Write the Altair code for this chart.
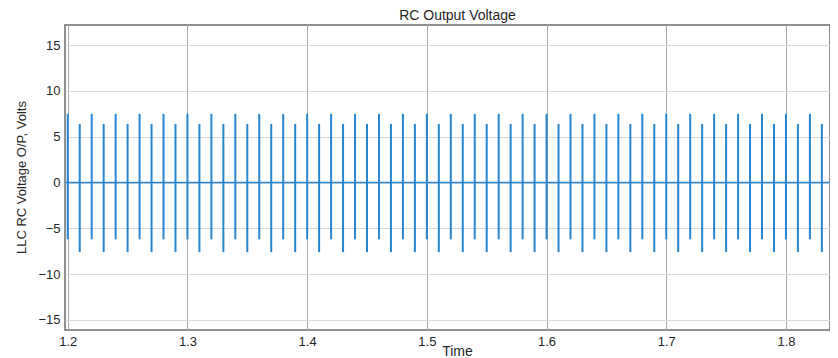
import altair as alt
import pandas as pd

# Spike instants (s)
times = [1.20, 1.21, 1.22, 1.23, 1.24, 1.25, 1.26, 1.27, 1.28, 1.29,
         1.30, 1.31, 1.32, 1.33, 1.34, 1.35, 1.36, 1.37, 1.38, 1.39,
         1.40, 1.41, 1.42, 1.43, 1.44, 1.45, 1.46, 1.47, 1.48, 1.49,
         1.50, 1.51, 1.52, 1.53, 1.54, 1.55, 1.56, 1.57, 1.58, 1.59,
         1.60, 1.61, 1.62, 1.63, 1.64, 1.65, 1.66, 1.67, 1.68, 1.69,
         1.70, 1.71, 1.72, 1.73, 1.74, 1.75, 1.76, 1.77, 1.78, 1.79,
         1.80, 1.81, 1.82, 1.83, 1.84]
# Positive peak of each spike (V)
peak_up = [7.5, 6.4, 7.5, 6.4, 7.5, 6.4, 7.5, 6.4, 7.5, 6.4,
           7.5, 6.4, 7.5, 6.4, 7.5, 6.4, 7.5, 6.4, 7.5, 6.4,
           7.5, 6.4, 7.5, 6.4, 7.5, 6.4, 7.5, 6.4, 7.5, 6.4,
           7.5, 6.4, 7.5, 6.4, 7.5, 6.4, 7.5, 6.4, 7.5, 6.4,
           7.5, 6.4, 7.5, 6.4, 7.5, 6.4, 7.5, 6.4, 7.5, 6.4,
           7.5, 6.4, 7.5, 6.4, 7.5, 6.4, 7.5, 6.4, 7.5, 6.4,
           7.5, 6.4, 7.5, 6.4, 7.5]
# Negative peak of each spike (V)
peak_down = [-6.2, -7.6, -6.2, -7.6, -6.2, -7.6, -6.2, -7.6, -6.2, -7.6,
             -6.2, -7.6, -6.2, -7.6, -6.2, -7.6, -6.2, -7.6, -6.2, -7.6,
             -6.2, -7.6, -6.2, -7.6, -6.2, -7.6, -6.2, -7.6, -6.2, -7.6,
             -6.2, -7.6, -6.2, -7.6, -6.2, -7.6, -6.2, -7.6, -6.2, -7.6,
             -6.2, -7.6, -6.2, -7.6, -6.2, -7.6, -6.2, -7.6, -6.2, -7.6,
             -6.2, -7.6, -6.2, -7.6, -6.2, -7.6, -6.2, -7.6, -6.2, -7.6,
             -6.2, -7.6, -6.2, -7.6, -6.2]
baseline = [0]

x_ticks = [1.2, 1.3, 1.4, 1.5, 1.6, 1.7, 1.8]
y_ticks = [-15, -10, -5, 0, 5, 10, 15]
x_domain = [1.1977, 1.8368]
y_domain = [-16.1, 17.2]

FONT = "Liberation Sans"
BLUE = "#2786cf"
TXT = "#262626"

df = pd.DataFrame({"t": times, "up": peak_up, "down": peak_down})
df0 = pd.DataFrame({"v": baseline})

spikes = alt.Chart(df).mark_rule(color=BLUE, strokeWidth=2, clip=True).encode(
    x=alt.X("t:Q",
            scale=alt.Scale(domain=x_domain, nice=False, zero=False),
            axis=alt.Axis(values=x_ticks, format=".1f", grid=True,
                          gridColor="#a8a8a8", gridWidth=1, tickSize=0,
                          domain=False, labelFont=FONT, labelFontSize=13,
                          labelColor=TXT, labelPadding=5, title="Time",
                          titleFont=FONT, titleFontSize=14,
                          titleFontWeight="normal", titleColor=TXT,
                          titleX=392, titleY=21, titleBaseline="middle")),
    y=alt.Y("down:Q",
            scale=alt.Scale(domain=y_domain, nice=False, zero=False),
            axis=alt.Axis(values=y_ticks, grid=True, gridColor="#d8d8d8",
                          gridWidth=1, tickSize=0, domain=False,
                          labelFont=FONT, labelFontSize=13, labelColor=TXT,
                          labelPadding=5, title="LLC RC Voltage O/P, Volts",
                          titleFont=FONT, titleFontSize=13,
                          titleFontWeight="normal", titleColor=TXT,
                          titleX=-44, titleY=152, titleAlign="center",
                          titleBaseline="middle", titleAngle=-90)),
    y2="up:Q",
)

zero_line = alt.Chart(df0).mark_rule(color=BLUE, strokeWidth=1.5).encode(
    y=alt.Y("v:Q")
)

chart = alt.layer(spikes, zero_line).properties(
    width=765,
    height=305,
    autosize=alt.AutoSizeParams(type="none"),
    padding={"left": 57, "top": 17, "right": 0, "bottom": 28},
    title=alt.TitleParams("RC Output Voltage", font=FONT, fontSize=14,
                          fontWeight="normal", color=TXT, anchor="middle",
                          dx=10, offset=2),
).configure_view(stroke="#6b6b6b", strokeWidth=1.5)

chart.save("out.html", embed_options={"renderer": "svg", "actions": False})
